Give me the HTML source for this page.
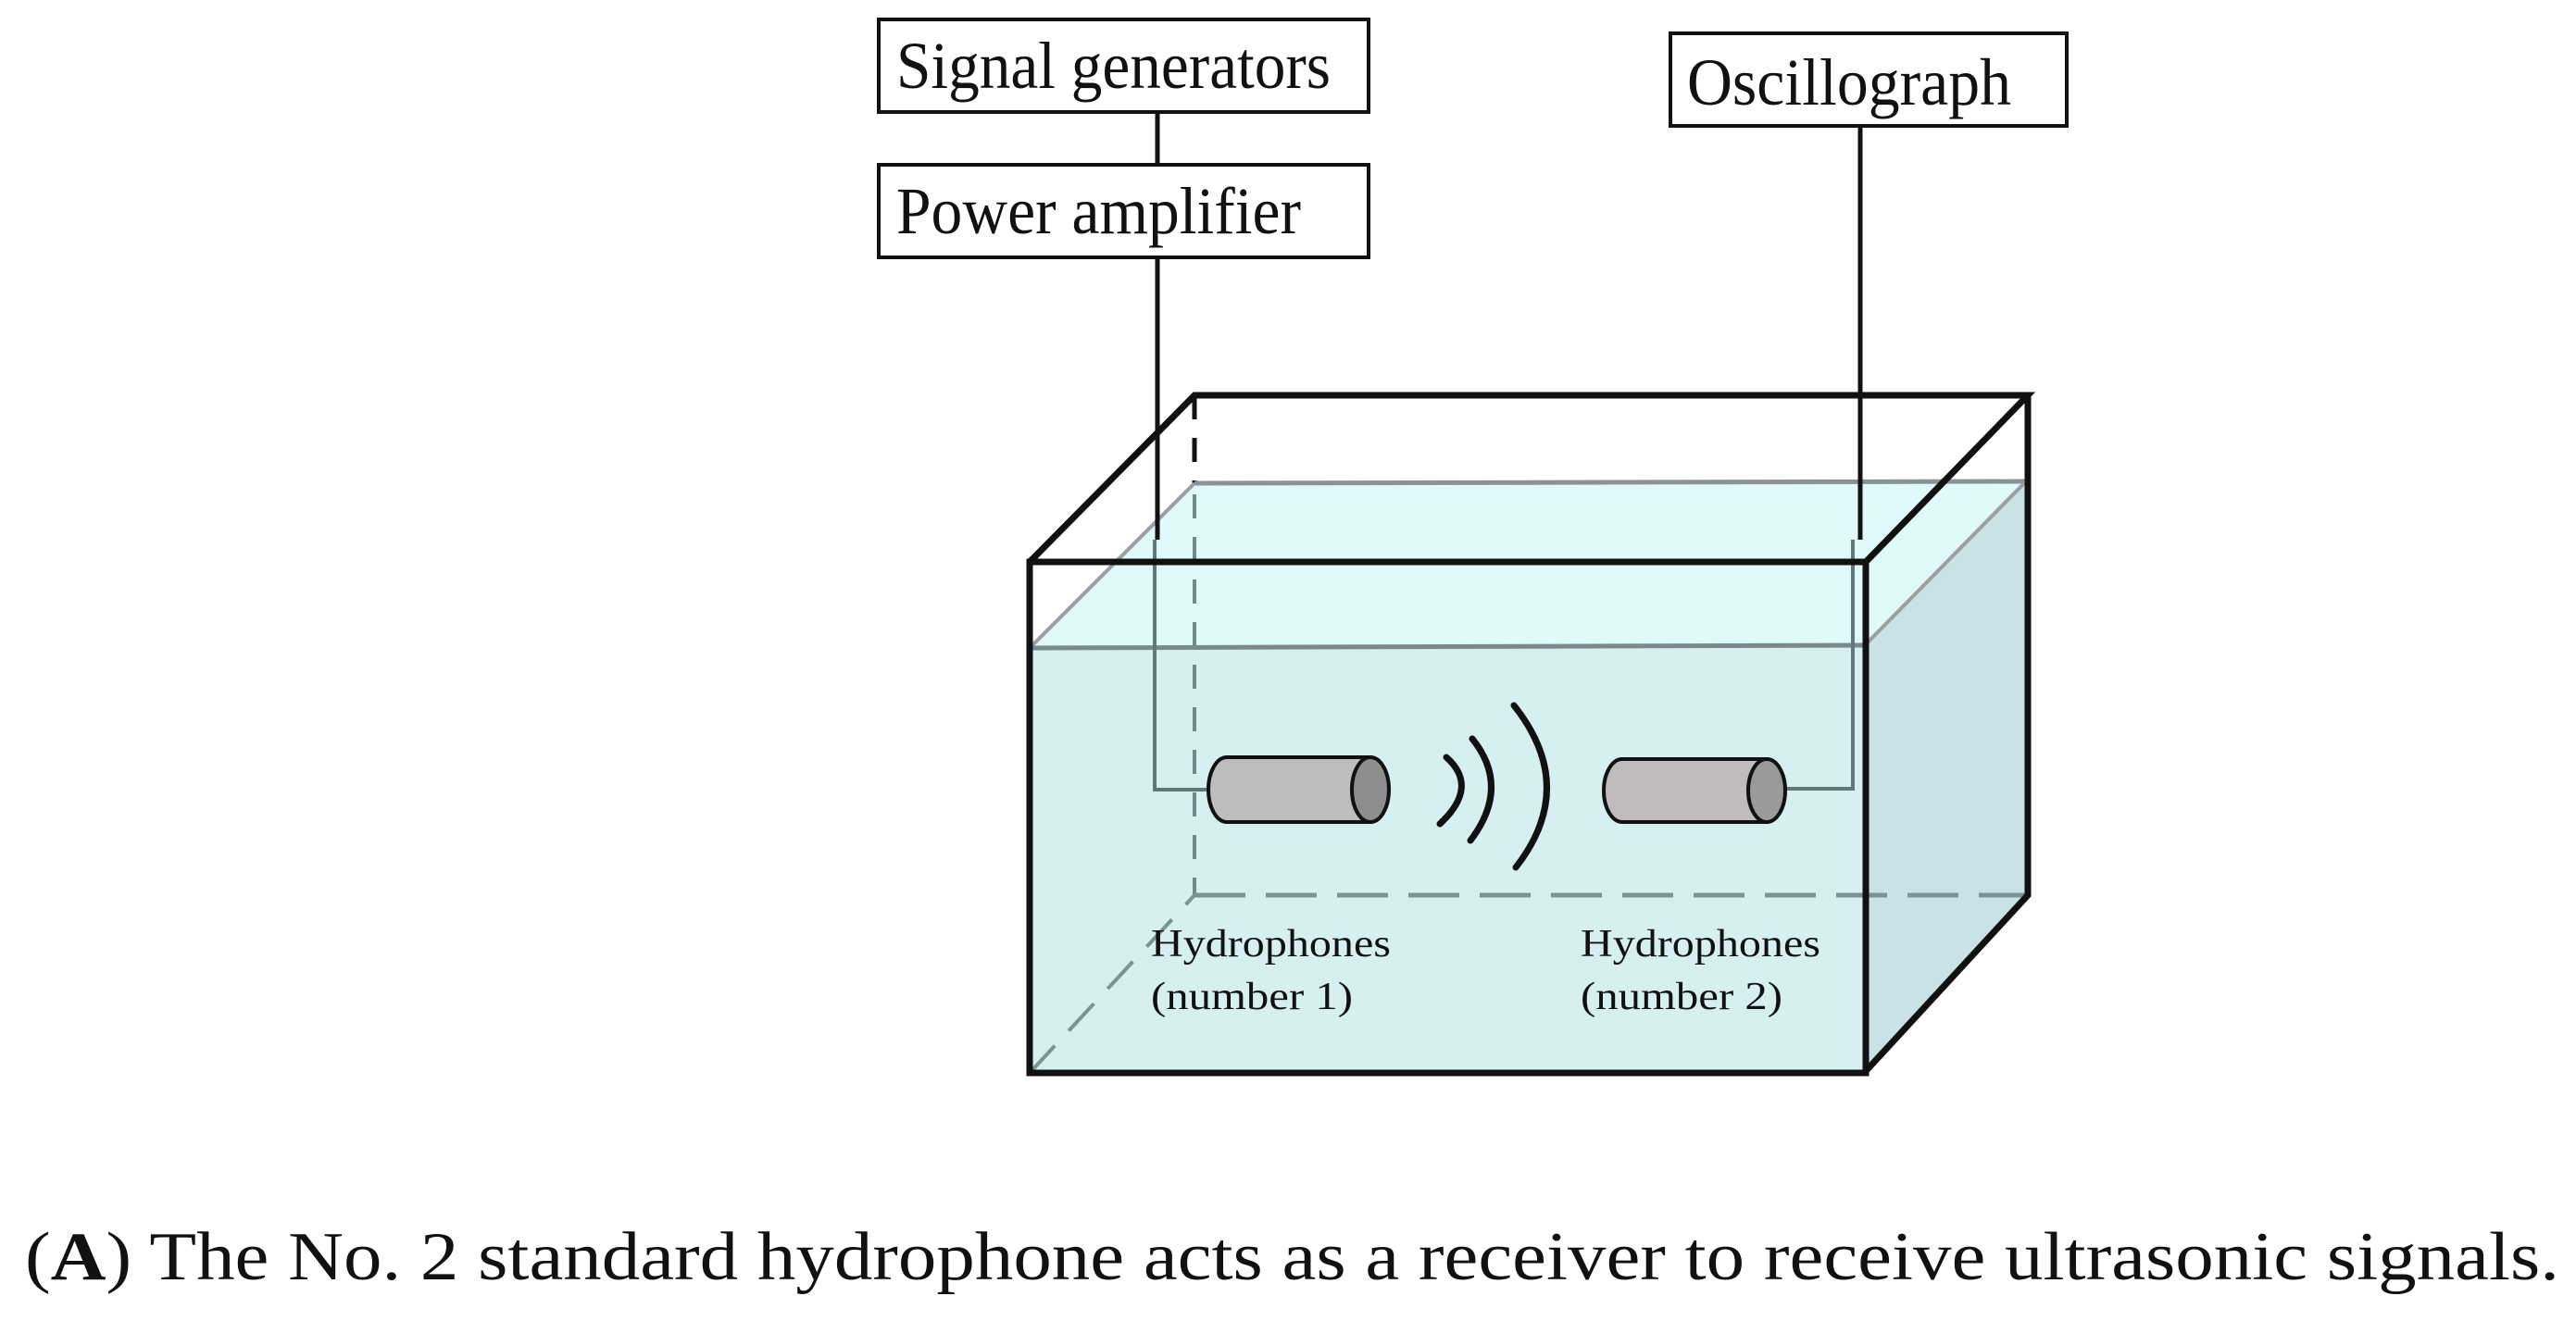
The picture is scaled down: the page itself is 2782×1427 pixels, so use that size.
<!DOCTYPE html>
<html><head><meta charset="utf-8"><style>
html,body{margin:0;padding:0;background:#fff;}
svg{display:block;}
text{font-family:"Liberation Serif",serif;fill:#111;}
</style></head><body>
<svg width="2782" height="1427" viewBox="0 0 2782 1427" xmlns="http://www.w3.org/2000/svg">
<!-- boxes -->
<rect x="949" y="21" width="529" height="100" fill="#fff" stroke="#111" stroke-width="4"/>
<text x="968" y="95" font-size="72" textLength="469" lengthAdjust="spacingAndGlyphs">Signal generators</text>
<rect x="949" y="178" width="529" height="100" fill="#fff" stroke="#111" stroke-width="4"/>
<text x="968" y="252" font-size="72" textLength="437" lengthAdjust="spacingAndGlyphs">Power amplifier</text>
<line x1="1250" y1="121" x2="1250" y2="178" stroke="#111" stroke-width="5"/>
<rect x="1804" y="36" width="428" height="100" fill="#fff" stroke="#111" stroke-width="4"/>
<text x="1822" y="113" font-size="72" textLength="350" lengthAdjust="spacingAndGlyphs">Oscillograph</text>

<!-- water fills -->
<polygon points="1112,700 1290,522 2188,520 2014,697" fill="#e0f9fb"/>
<polygon points="1112,700 2014,697 2014,1157 1112,1159" fill="#d6eff1"/>
<polygon points="2014,697 2188,520 2188,967 2014,1157" fill="#c9e2e5"/>

<!-- back hidden edges -->
<line x1="1290" y1="427" x2="1290" y2="524" stroke="#111" stroke-width="5" stroke-dasharray="26,20"/>
<line x1="1290" y1="534" x2="1290" y2="967" stroke="#6f8a8c" stroke-width="4" stroke-dasharray="26,20"/>
<line x1="1290" y1="967" x2="2188" y2="967" stroke="#7d9294" stroke-width="5" stroke-dasharray="55,22"/>
<line x1="1112" y1="1159" x2="1290" y2="967" stroke="#7d9294" stroke-width="4" stroke-dasharray="40,22"/>

<!-- water lines -->
<line x1="1290" y1="522" x2="2188" y2="520" stroke="#8a9294" stroke-width="5"/>
<line x1="1112" y1="700" x2="1290" y2="522" stroke="#9aa0a2" stroke-width="4"/>
<line x1="1112" y1="700" x2="2014" y2="697" stroke="#7a8a8c" stroke-width="5"/>
<line x1="2014" y1="697" x2="2188" y2="520" stroke="#9aa0a2" stroke-width="4"/>

<!-- wires -->
<line x1="1250" y1="278" x2="1250" y2="583" stroke="#111" stroke-width="5"/>
<polyline points="1247,583 1247,853 1305,853" fill="none" stroke="#5f7879" stroke-width="4"/>
<line x1="2009" y1="136" x2="2009" y2="583" stroke="#111" stroke-width="5"/>
<polyline points="2001,583 2001,852 1912,852" fill="none" stroke="#5f7879" stroke-width="4"/>

<!-- tank edges -->
<polyline points="1112,607 1290,427 2190,427 2015,607" fill="none" stroke="#111" stroke-width="7" stroke-linejoin="miter"/>
<rect x="1112" y="607" width="903" height="552" fill="none" stroke="#111" stroke-width="7"/>
<polyline points="2190,427 2190,967 2015,1157" fill="none" stroke="#111" stroke-width="7"/>

<!-- hydrophone 1 -->
<path d="M1325,818 L1480,818 L1480,888 L1325,888 A20,35 0 0 1 1325,818 Z" fill="#bdbdbf" stroke="#111" stroke-width="4"/>
<ellipse cx="1480" cy="853" rx="20" ry="35" fill="#8e8e90" stroke="#111" stroke-width="4"/>
<!-- hydrophone 2 -->
<path d="M1752,820 L1908,820 L1908,888 L1752,888 A20,34 0 0 1 1752,820 Z" fill="#c0bcbe" stroke="#111" stroke-width="4"/>
<ellipse cx="1908" cy="854" rx="20" ry="34" fill="#9a9a9c" stroke="#111" stroke-width="4"/>

<!-- waves -->
<path d="M1562,818 Q1598,850 1555,890" fill="none" stroke="#111" stroke-width="7" stroke-linecap="round"/>
<path d="M1590,798 Q1632,850 1588,908" fill="none" stroke="#111" stroke-width="7" stroke-linecap="round"/>
<path d="M1635,762 Q1705,850 1637,937" fill="none" stroke="#111" stroke-width="7" stroke-linecap="round"/>

<!-- labels -->
<text x="1243" y="1033" font-size="42" textLength="259" lengthAdjust="spacingAndGlyphs">Hydrophones</text>
<text x="1243" y="1090" font-size="42" textLength="218" lengthAdjust="spacingAndGlyphs">(number 1)</text>
<text x="1707" y="1033" font-size="42" textLength="259" lengthAdjust="spacingAndGlyphs">Hydrophones</text>
<text x="1707" y="1090" font-size="42" textLength="218" lengthAdjust="spacingAndGlyphs">(number 2)</text>

<!-- caption -->
<text x="27" y="1382" font-size="74" textLength="2737" lengthAdjust="spacingAndGlyphs">(<tspan font-weight="bold">A</tspan>) The No. 2 standard hydrophone acts as a receiver to receive ultrasonic signals.</text>
</svg>
</body></html>
